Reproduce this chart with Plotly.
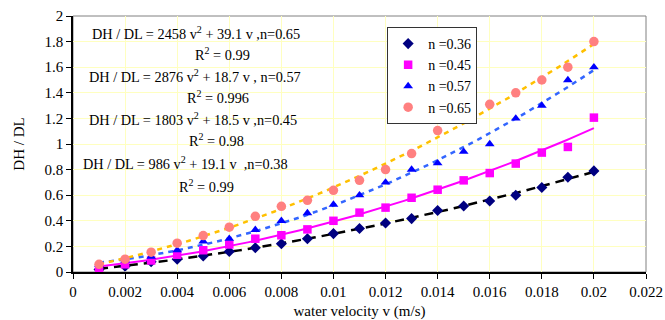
import numpy as np
import plotly.graph_objects as go

velocity = [0.001, 0.002, 0.003, 0.004, 0.005, 0.006, 0.007, 0.008, 0.009, 0.010,
            0.011, 0.012, 0.013, 0.014, 0.015, 0.016, 0.017, 0.018, 0.019, 0.020]

n036 = [0.02, 0.045, 0.08, 0.10, 0.125, 0.16, 0.19, 0.22, 0.26, 0.30,
        0.34, 0.383, 0.417, 0.48, 0.516, 0.555, 0.60, 0.66, 0.74, 0.79]
n045 = [0.03, 0.06, 0.09, 0.135, 0.17, 0.215, 0.26, 0.287, 0.333, 0.40,
        0.464, 0.503, 0.58, 0.643, 0.716, 0.773, 0.847, 0.933, 0.977, 1.206]
n057 = [0.055, 0.09, 0.12, 0.17, 0.24, 0.26, 0.33, 0.40, 0.46, 0.527,
        0.60, 0.70, 0.80, 0.85, 0.94, 1.00, 1.20, 1.30, 1.50, 1.60]
n065 = [0.06, 0.10, 0.155, 0.225, 0.285, 0.35, 0.435, 0.513, 0.56, 0.638,
        0.716, 0.80, 0.925, 1.105, 1.206, 1.31, 1.40, 1.50, 1.60, 1.80]

series_names = ["n =0.36", "n =0.45", "n =0.57", "n =0.65"]

equations = [
    "DH / DL = 2458 v<sup>2</sup> + 39.1 v ,n=0.65",
    "R<sup>2</sup> = 0.99",
    "DH / DL = 2876 v<sup>2</sup> + 18.7 v , n=0.57",
    "R<sup>2</sup> = 0.996",
    "DH / DL = 1803 v<sup>2</sup> + 18.5 v ,n=0.45",
    "R<sup>2</sup> = 0.98",
    "DH / DL = 986 v<sup>2</sup> + 19.1 v  ,n=0.38",
    "R<sup>2</sup> = 0.99",
]
# pixel positions (left, middle) of each equation line
eq_px = [(90, 33), (193, 54), (87, 76), (185, 97), (87, 119), (187, 140), (81, 163), (177, 186)]

FONT = "'Liberation Serif', 'Times New Roman', Times, serif"
L, R, T, B = 72.7, 646.0, 15.7, 271.7
W, H = 665, 320

styles = [
    dict(symbol="diamond", color="#000080", size=8.5, lcolor="#000000", dash="9px,6px", lw=2.5),
    dict(symbol="square", color="#FF00FF", size=8.5, lcolor="#FF00FF", dash="solid", lw=2),
    dict(symbol="triangle-up", color="#0000FF", size=8.5, lcolor="#3366FF", dash="5px,5px", lw=2.5),
    dict(symbol="circle", color="#FF8080", size=9.5, lcolor="#FFC000", dash="5px,5px", lw=2.5),
]
data = [n036, n045, n057, n065]

fig = go.Figure()
v = np.array(velocity)
vv = np.linspace(v.min(), v.max(), 100)
# trendlines first (behind markers)
for ys, st in zip(data, styles):
    coef = np.polyfit(v, np.array(ys), 2)
    fig.add_trace(go.Scatter(x=vv, y=np.polyval(coef, vv), mode="lines",
                             line=dict(color=st["lcolor"], dash=st["dash"], width=st["lw"]),
                             showlegend=False, hoverinfo="skip"))
for ys, st, name in zip(data, styles, series_names):
    fig.add_trace(go.Scatter(x=velocity, y=ys, mode="markers", name=name,
                             marker=dict(symbol=st["symbol"], color=st["color"], size=st["size"],
                                         line=dict(width=0))))

annotations = []
for txt, (px, py) in zip(equations, eq_px):
    annotations.append(dict(text=txt, xref="paper", yref="paper",
                            x=(px - L) / (R - L), y=(B - py) / (B - T),
                            xanchor="left", yanchor="middle", showarrow=False,
                            font=dict(family=FONT, size=14.3, color="black")))

fig.update_layout(
    width=W, height=H,
    margin=dict(l=L, r=W - R, t=T, b=H - B, pad=0, autoexpand=False),
    paper_bgcolor="white", plot_bgcolor="white",
    font=dict(family=FONT, size=15, color="black"),
    annotations=annotations,
    legend=dict(x=(387 - L) / (R - L), y=(B - 26.7) / (B - T), xanchor="left", yanchor="top",
                bgcolor="white", bordercolor="#333333", borderwidth=1,
                font=dict(family=FONT, size=14, color="black"), tracegroupgap=0,
                itemwidth=30),
    shapes=[dict(type="rect", xref="paper", yref="paper", x0=0, y0=0, x1=1, y1=1,
                 line=dict(color="#808080", width=1), layer="below")],
    xaxis=dict(range=[0, 0.022], dtick=0.002, tick0=0, showgrid=True, gridcolor="#FFFFC0",
               gridwidth=1, zeroline=False, showline=True, linecolor="black", linewidth=1.5,
               ticks="outside", ticklen=5, tickcolor="black", automargin=False,
               tickfont=dict(family=FONT, size=15),
               title=dict(text="water velocity v (m/s)", standoff=8,
                          font=dict(family=FONT, size=15))),
    yaxis=dict(range=[0, 2], dtick=0.2, tick0=0, showgrid=True, gridcolor="#FFFFC0",
               gridwidth=1, zeroline=False, showline=True, linecolor="black", linewidth=1.5,
               ticks="outside", ticklen=5, tickcolor="black", automargin=False,
               tickfont=dict(family=FONT, size=15),
               title=dict(text="DH / DL", standoff=16, font=dict(family=FONT, size=15))),
)

fig.write_html("out.html", config={"displayModeBar": False},
               post_script="document.body.style.margin='0';document.body.style.padding='0';")
